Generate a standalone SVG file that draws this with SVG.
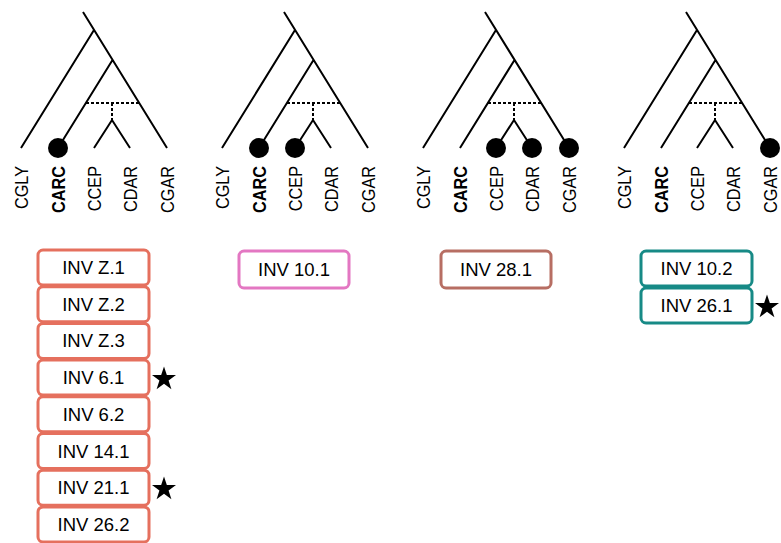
<svg xmlns="http://www.w3.org/2000/svg" width="781" height="543" viewBox="0 0 781 543">
<defs>
<style>
.br{stroke:#000;stroke-width:2;fill:none;stroke-linecap:butt}
.dot{stroke:#000;stroke-width:2;fill:none;stroke-dasharray:3,2}
.tip{fill:#000}
.lab{font-family:"Liberation Sans",Arial,sans-serif;font-size:18.5px;fill:#000;text-anchor:end}
.b{font-weight:bold}
.box{fill:#fff;stroke-width:3}
.t{font-family:"Liberation Sans",Arial,sans-serif;font-size:18.5px;fill:#000;text-anchor:middle}
.c1{stroke:#E5705E}
.c2{stroke:#E377C2}
.c3{stroke:#B76E63}
.c4{stroke:#178A86}
</style>
<g id="tree">
<path class="br" d="M83,12 L167,148 M21,148 L94,30 M58,148 L112.5,60 M94,148 L112,120 L130,148"/>
<path class="dot" d="M86,103 H139 M112,103 V120"/>
<text class="lab" transform="translate(27.5,166) rotate(-90) scale(0.88,1)">CGLY</text>
<text class="lab b" transform="translate(64.5,166) rotate(-90) scale(0.88,1)">CARC</text>
<text class="lab" transform="translate(100.5,166) rotate(-90) scale(0.88,1)">CCEP</text>
<text class="lab" transform="translate(136.5,166) rotate(-90) scale(0.88,1)">CDAR</text>
<text class="lab" transform="translate(173.5,166) rotate(-90) scale(0.88,1)">CGAR</text>
</g>
<polygon id="star" points="0,-12.6 2.83,-3.9 12,-3.9 4.58,1.49 7.41,10.2 0,4.82 -7.41,10.2 -4.58,1.49 -12,-3.9 -2.83,-3.9" fill="#000"/>
</defs>

<g id="connectors">
<use href="#tree" x="0"/>
<use href="#tree" x="201"/>
<use href="#tree" x="402"/>
<use href="#tree" x="603"/>
</g>

<g id="tips">
<circle class="tip" cx="58" cy="148" r="10"/>
<circle class="tip" cx="259" cy="148" r="10"/>
<circle class="tip" cx="295" cy="148" r="10"/>
<circle class="tip" cx="496" cy="148" r="10"/>
<circle class="tip" cx="532" cy="148" r="10"/>
<circle class="tip" cx="569" cy="148" r="10"/>
<circle class="tip" cx="770" cy="148" r="10"/>
</g>

<g id="col1">
<g id="invZ1"><rect class="box c1" x="38" y="250" width="111" height="35" rx="5"/><text class="t" x="93.5" y="274">INV Z.1</text></g>
<g id="invZ2"><rect class="box c1" x="38" y="286.7" width="111" height="35" rx="5"/><text class="t" x="93.5" y="310.7">INV Z.2</text></g>
<g id="invZ3"><rect class="box c1" x="38" y="323.4" width="111" height="35" rx="5"/><text class="t" x="93.5" y="347.4">INV Z.3</text></g>
<g id="inv61"><rect class="box c1" x="38" y="360.1" width="111" height="35" rx="5"/><text class="t" x="93.5" y="384.1">INV 6.1</text></g>
<g id="inv62"><rect class="box c1" x="38" y="396.8" width="111" height="35" rx="5"/><text class="t" x="93.5" y="420.8">INV 6.2</text></g>
<g id="inv141"><rect class="box c1" x="38" y="433.5" width="111" height="35" rx="5"/><text class="t" x="93.5" y="457.5">INV 14.1</text></g>
<g id="inv211"><rect class="box c1" x="38" y="470.2" width="111" height="35" rx="5"/><text class="t" x="93.5" y="494.2">INV 21.1</text></g>
<g id="inv262"><rect class="box c1" x="38" y="506.9" width="111" height="35" rx="5"/><text class="t" x="93.5" y="530.9">INV 26.2</text></g>
<use href="#star" x="164" y="379"/>
<use href="#star" x="164" y="489"/>
</g>

<g id="col2">
<g id="inv101"><rect class="box c2" x="239" y="251" width="110" height="37" rx="5"/><text class="t" x="294" y="276">INV 10.1</text></g>
</g>

<g id="col3">
<g id="inv281"><rect class="box c3" x="441" y="251" width="110" height="37" rx="5"/><text class="t" x="496" y="276">INV 28.1</text></g>
</g>

<g id="col4">
<g id="inv102"><rect class="box c4" x="641" y="251" width="111" height="35" rx="5"/><text class="t" x="696.5" y="275">INV 10.2</text></g>
<g id="inv261"><rect class="box c4" x="641" y="288" width="111" height="35" rx="5"/><text class="t" x="696.5" y="312">INV 26.1</text></g>
<use href="#star" x="767" y="307"/>
</g>
</svg>
